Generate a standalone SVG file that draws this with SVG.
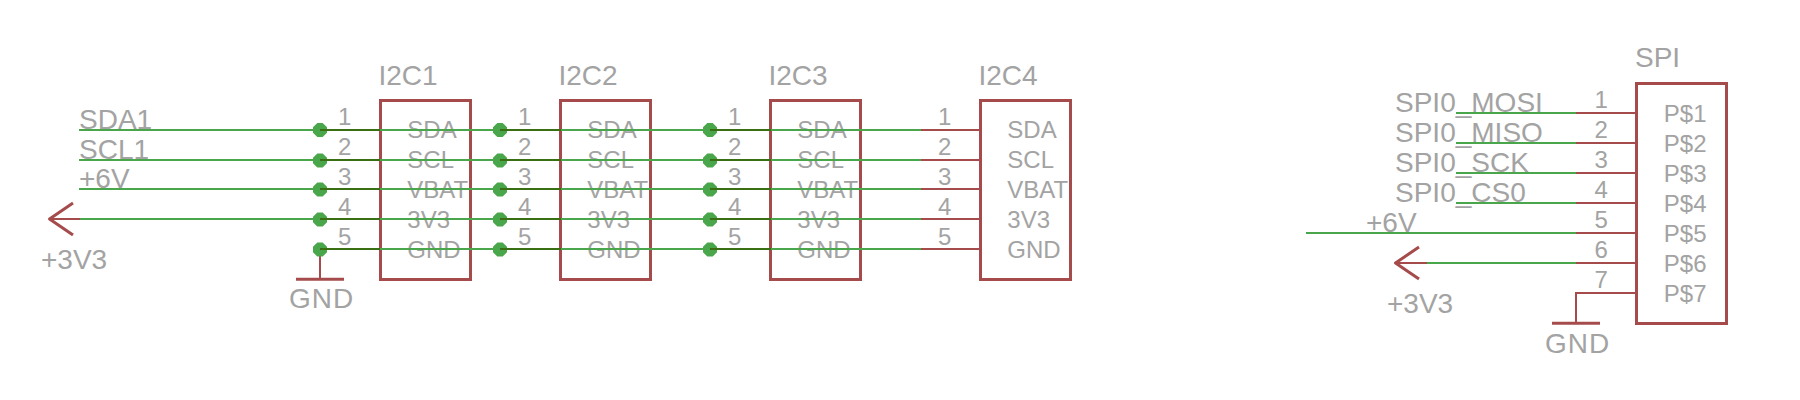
<svg xmlns="http://www.w3.org/2000/svg" width="1800" height="400" viewBox="0 0 1800 400">
<defs>
<style>
text{font-family:"Liberation Sans",Arial,sans-serif;fill:#a3a3a3}
.t{font-size:28px}
.g{letter-spacing:1px}
.p{font-size:24px}
.box{fill:none;stroke:#a54b4b;stroke-width:3;shape-rendering:crispEdges}
.pin{stroke:#a54b4b;stroke-width:2;fill:none;shape-rendering:crispEdges}
.sym{stroke:#a54b4b;stroke-width:3;fill:none;stroke-linejoin:round}
.w{stroke:#4aa64a;stroke-width:2;fill:none;shape-rendering:crispEdges}
.d{stroke:#3a6e12;stroke-width:2;fill:none;shape-rendering:crispEdges}
.j{fill:#4aa64a}
</style>
<polygon id="dot" points="-7,-2.7 -2.7,-7 2.7,-7 7,-2.7 7,2.7 2.7,7 -2.7,7 -7,2.7"/>
</defs>
<g id="I2C1">
<rect class="box" x="380" y="100" width="90.5" height="179"/>
<text class="t" x="378.5" y="85">I2C1</text>
<text class="p" x="407.3" y="137.7">SDA</text><text class="p" x="407.3" y="167.7">SCL</text><text class="p" x="407.3" y="197.7">VBAT</text><text class="p" x="407.3" y="227.7">3V3</text><text class="p" x="407.3" y="257.7">GND</text>
<text class="p" x="338" y="125">1</text><text class="p" x="338" y="155">2</text><text class="p" x="338" y="184.5">3</text><text class="p" x="338" y="215">4</text><text class="p" x="338" y="244.5">5</text>
</g>
<g id="I2C2">
<rect class="box" x="560.5" y="100" width="90" height="179"/>
<text class="t" x="558.5" y="85">I2C2</text>
<text class="p" x="587.3" y="137.7">SDA</text><text class="p" x="587.3" y="167.7">SCL</text><text class="p" x="587.3" y="197.7">VBAT</text><text class="p" x="587.3" y="227.7">3V3</text><text class="p" x="587.3" y="257.7">GND</text>
<text class="p" x="518" y="125">1</text><text class="p" x="518" y="155">2</text><text class="p" x="518" y="184.5">3</text><text class="p" x="518" y="215">4</text><text class="p" x="518" y="244.5">5</text>
</g>
<g id="I2C3">
<rect class="box" x="770.5" y="100" width="90" height="179"/>
<text class="t" x="768.5" y="85">I2C3</text>
<text class="p" x="797.3" y="137.7">SDA</text><text class="p" x="797.3" y="167.7">SCL</text><text class="p" x="797.3" y="197.7">VBAT</text><text class="p" x="797.3" y="227.7">3V3</text><text class="p" x="797.3" y="257.7">GND</text>
<text class="p" x="728" y="125">1</text><text class="p" x="728" y="155">2</text><text class="p" x="728" y="184.5">3</text><text class="p" x="728" y="215">4</text><text class="p" x="728" y="244.5">5</text>
</g>
<g id="I2C4">
<rect class="box" x="980.5" y="100" width="90" height="179"/>
<text class="t" x="978.5" y="85">I2C4</text>
<text class="p" x="1007.3" y="137.7">SDA</text><text class="p" x="1007.3" y="167.7">SCL</text><text class="p" x="1007.3" y="197.7">VBAT</text><text class="p" x="1007.3" y="227.7">3V3</text><text class="p" x="1007.3" y="257.7">GND</text>
<text class="p" x="938" y="125">1</text><text class="p" x="938" y="155">2</text><text class="p" x="938" y="184.5">3</text><text class="p" x="938" y="215">4</text><text class="p" x="938" y="244.5">5</text>
</g>
<g id="SPI">
<rect class="box" x="1636.5" y="83" width="90" height="240"/>
<text class="t" x="1635" y="67.3">SPI</text>
<text class="p" x="1663.8" y="121.7">P$1</text><text class="p" x="1663.8" y="151.7">P$2</text><text class="p" x="1663.8" y="181.7">P$3</text><text class="p" x="1663.8" y="211.7">P$4</text><text class="p" x="1663.8" y="241.7">P$5</text><text class="p" x="1663.8" y="271.7">P$6</text><text class="p" x="1663.8" y="301.7">P$7</text>
<text class="p" x="1594.5" y="108.3">1</text><text class="p" x="1594.5" y="138.3">2</text><text class="p" x="1594.5" y="168.3">3</text><text class="p" x="1594.5" y="198.3">4</text><text class="p" x="1594.5" y="228.3">5</text><text class="p" x="1594.5" y="258.3">6</text><text class="p" x="1594.5" y="288.3">7</text>
</g>
<g id="power-left">
<path class="sym" d="M73 203L49.5 219L73 235"/>
<path class="pin" d="M49.5 219H80"/>
<text class="t" x="41" y="269">+3V3</text>
<path class="pin" d="M320 249V279"/>
<path class="sym" d="M296 279.3H344"/>
<text class="t g" x="289" y="308">GND</text>
</g>
<g id="power-right">
<path class="sym" d="M1419 247L1395.5 263L1419 279"/>
<path class="pin" d="M1395.5 263H1427"/>
<text class="t" x="1387" y="313">+3V3</text>
<path class="pin" d="M1636.5 293H1576V323"/>
<path class="sym" d="M1552 323.3H1600"/>
<text class="t g" x="1545" y="352.7">GND</text>
</g>
<g id="net-labels">
<text class="t" x="79" y="129">SDA1</text>
<text class="t" x="79" y="159">SCL1</text>
<text class="t" x="79" y="188">+6V</text>
<text class="t" x="1395" y="112.3">SPI0_MOSI</text>
<text class="t" x="1395" y="142.3">SPI0_MISO</text>
<text class="t" x="1395" y="172.3">SPI0_SCK</text>
<text class="t" x="1395" y="202.3">SPI0_CS0</text>
<text class="t" x="1366" y="231.7">+6V</text>
</g>
<g id="connectors">
<path class="pin" d="M920.5 130H980.5M920.5 160H980.5M920.5 189H980.5M920.5 219H980.5M920.5 249H980.5"/>
<path class="pin" d="M1576 113H1636.5M1576 143H1636.5M1576 173H1636.5M1576 203H1636.5M1576 233H1636.5M1576 263H1636.5"/>
<path class="w" d="M79 130H920.5M79 160H920.5M79 189H920.5M80 219H920.5M320 249H920.5"/>
<path class="d" d="M320 130H380M320 160H380M320 189H380M320 219H380M320 249H380M500 130H560.5M500 160H560.5M500 189H560.5M500 219H560.5M500 249H560.5M710 130H770.5M710 160H770.5M710 189H770.5M710 219H770.5M710 249H770.5"/>
<path class="w" d="M1455.7 113H1576M1455.7 143H1576M1455.7 173H1576M1455.7 203H1576M1305.7 233H1576M1427 263H1576"/>
<g class="j">
<use href="#dot" x="320" y="130"/><use href="#dot" x="320" y="160.5"/><use href="#dot" x="320" y="189.5"/><use href="#dot" x="320" y="219.5"/><use href="#dot" x="320" y="249.5"/>
<use href="#dot" x="500" y="130"/><use href="#dot" x="500" y="160.5"/><use href="#dot" x="500" y="189.5"/><use href="#dot" x="500" y="219.5"/><use href="#dot" x="500" y="249.5"/>
<use href="#dot" x="710" y="130"/><use href="#dot" x="710" y="160.5"/><use href="#dot" x="710" y="189.5"/><use href="#dot" x="710" y="219.5"/><use href="#dot" x="710" y="249.5"/>
</g>
<path class="d" d="M320 130H330M320 160H330M320 189H330M320 219H330M320 249H330M500 130H510M500 160H510M500 189H510M500 219H510M500 249H510M710 130H720M710 160H720M710 189H720M710 219H720M710 249H720"/>
</g>
</svg>
